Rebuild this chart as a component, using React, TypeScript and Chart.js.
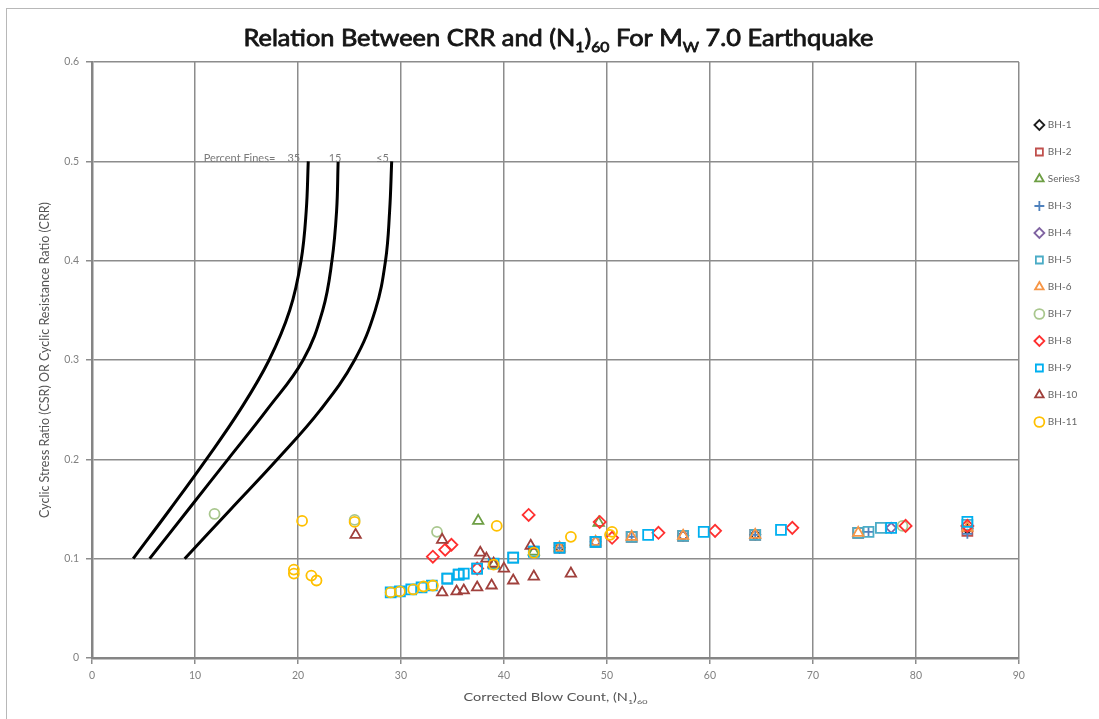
import { useEffect, useRef } from 'react';
import { Chart, registerables } from 'chart.js';

Chart.register(...registerables);

const FONT = 'Lato, "Liberation Sans", sans-serif';

// Percent-fines boundary curves (x = (N1)60, y = CRR)
const CURVE_Y = [0.1, 0.15, 0.2, 0.25, 0.3, 0.35, 0.4, 0.45, 0.5];
const FINES35_X = [4.0, 7.6, 11.1, 14.4, 17.2, 19.2, 20.3, 20.8, 21.0];
const FINES15_X = [5.6, 9.4, 13.2, 17.0, 20.5, 22.4, 23.3, 23.75, 23.9];
const FINES5_X = [9.0, 13.5, 18.0, 22.2, 25.5, 27.5, 28.5, 28.9, 29.1];
const CURVE_LABELS = ['35', '15', '≤5'];
const CURVE_LABEL_X = [19.6, 23.6, 28.2];
const FINES_TITLE = 'Percent Fines=';
const FINES_TITLE_X = 17.8;
const FINES_LABEL_Y = 0.5;

// Boreholes: [ (N1)60 , CSR ]
const BH1 = [[45.4, 0.111], [57.4, 0.123], [64.4, 0.124], [85, 0.130]];
const BH2 = [[45.4, 0.111], [48.9, 0.117], [52.4, 0.122], [57.4, 0.123], [64.4, 0.124], [74.4, 0.126], [85, 0.128]];
const SERIES3 = [[37.5, 0.138], [49.2, 0.136], [39.0, 0.094], [42.9, 0.107]];
const BH3 = [[45.4, 0.111], [52.4, 0.122], [64.4, 0.124], [75.4, 0.127], [85, 0.125]];
const BH4 = [[48.9, 0.117], [57.4, 0.123], [77.6, 0.131]];
const BH5 = [[34.5, 0.080], [35.6, 0.084], [37.4, 0.090], [40.9, 0.101], [42.9, 0.107], [45.4, 0.111], [48.9, 0.117], [52.4, 0.122], [57.4, 0.123], [64.4, 0.124], [74.4, 0.126], [75.4, 0.127], [76.6, 0.131], [85, 0.134]];
const BH6 = [[45.4, 0.111], [48.9, 0.117], [52.4, 0.122], [57.4, 0.123], [64.4, 0.124], [74.4, 0.126], [85, 0.131]];
const BH7 = [[11.9, 0.145], [25.5, 0.139], [33.5, 0.127], [78.7, 0.133]];
const BH8 = [[33.1, 0.102], [34.3, 0.109], [34.9, 0.114], [37.4, 0.090], [42.4, 0.144], [49.3, 0.137], [50.5, 0.121], [55.0, 0.126], [60.5, 0.128], [68.0, 0.131], [79.0, 0.133], [85, 0.133]];
const BH9 = [[29.0, 0.066], [29.9, 0.067], [31.0, 0.069], [32.0, 0.071], [33.0, 0.073], [34.5, 0.080], [35.6, 0.084], [36.1, 0.085], [37.4, 0.090], [39.0, 0.095], [40.9, 0.101], [42.9, 0.107], [45.4, 0.111], [48.9, 0.117], [54.0, 0.124], [59.4, 0.127], [66.9, 0.129], [77.6, 0.131], [85, 0.137]];
const BH10 = [[25.6, 0.124], [34.0, 0.119], [37.7, 0.106], [38.3, 0.100], [39.0, 0.095], [40.0, 0.090], [42.6, 0.113], [34.0, 0.066], [35.4, 0.067], [36.1, 0.068], [37.4, 0.071], [38.8, 0.073], [40.9, 0.078], [42.9, 0.082], [46.5, 0.085]];
const BH11 = [[19.6, 0.089], [19.6, 0.085], [21.3, 0.083], [21.8, 0.078], [20.4, 0.138], [25.5, 0.137], [29.0, 0.066], [29.9, 0.067], [31.2, 0.069], [32.2, 0.072], [33.1, 0.073], [39.0, 0.094], [39.3, 0.133], [42.9, 0.106], [46.5, 0.122], [50.5, 0.127], [50.3, 0.124]];

const SERIES = [
  { label: 'BH-1', data: BH1, color: '#1e1e1e', style: 'rectRot', r: 5 },
  { label: 'BH-2', data: BH2, color: '#C0504D', style: 'rect', r: 7 },
  { label: 'Series3', data: SERIES3, color: '#6E9F45', style: 'triangle', r: 6 },
  { label: 'BH-3', data: BH3, color: '#4F81BD', style: 'cross', r: 5 },
  { label: 'BH-4', data: BH4, color: '#8064A2', style: 'rectRot', r: 5 },
  { label: 'BH-5', data: BH5, color: '#4BACC6', style: 'rect', r: 7 },
  { label: 'BH-6', data: BH6, color: '#F79646', style: 'triangle', r: 6 },
  { label: 'BH-7', data: BH7, color: '#A9C78E', style: 'circle', r: 5 },
  { label: 'BH-8', data: BH8, color: '#FF3030', style: 'rectRot', r: 6 },
  { label: 'BH-9', data: BH9, color: '#00B0F0', style: 'rect', r: 7 },
  { label: 'BH-10', data: BH10, color: '#A0403C', style: 'triangle', r: 6 },
  { label: 'BH-11', data: BH11, color: '#FFC000', style: 'circle', r: 5 },
];

type Part = { t: string; sub?: boolean };

function drawRich(ctx: CanvasRenderingContext2D, parts: Part[], cx: number, baseline: number, size: number, color: string, weight: string, targetWidth?: number, stroke = 0) {
  const subSize = size * 0.62;
  const fontFor = (p: Part) => `${weight} ${p.sub ? subSize : size}px ${FONT}`;
  const widths = parts.map((p) => { ctx.font = fontFor(p); return ctx.measureText(p.t).width; });
  const total = widths.reduce((a, b) => a + b, 0);
  const sx = targetWidth ? targetWidth / total : 1;
  ctx.save();
  ctx.translate(cx - (total * sx) / 2, baseline);
  ctx.scale(sx, 1);
  ctx.fillStyle = color;
  ctx.strokeStyle = color;
  ctx.lineWidth = stroke;
  ctx.lineJoin = 'round';
  ctx.textAlign = 'left';
  ctx.textBaseline = 'alphabetic';
  let x = 0;
  parts.forEach((p, i) => {
    ctx.font = fontFor(p);
    const dy = p.sub ? size * 0.24 : 0;
    ctx.fillText(p.t, x, dy);
    if (stroke > 0) ctx.strokeText(p.t, x, dy);
    x += widths[i];
  });
  ctx.restore();
}

const annotationPlugin = {
  id: 'annotations',
  afterDraw(chart: any) {
    const { ctx, chartArea, scales } = chart;
    const xs = scales.x;
    const ys = scales.y;
    ctx.save();
    // Title
    drawRich(ctx, [
      { t: 'Relation Between CRR and (N' }, { t: '1', sub: true }, { t: ')' }, { t: '60', sub: true },
      { t: ' For M' }, { t: 'W', sub: true }, { t: ' 7.0 Earthquake' },
    ], (chartArea.left + chartArea.right) / 2 + 3, 46, 23, '#151515', 'normal', 630, 0.8);
    // X axis title
    drawRich(ctx, [
      { t: 'Corrected Blow Count, (N' }, { t: '1', sub: true }, { t: ')' }, { t: '60', sub: true },
    ], (chartArea.left + chartArea.right) / 2, 701, 10.5, '#555', 'normal', 184);
    // Percent fines labels
    ctx.fillStyle = '#7a7a7a';
    ctx.font = `11px ${FONT}`;
    ctx.textBaseline = 'alphabetic';
    const yb = ys.getPixelForValue(FINES_LABEL_Y) + 1;
    ctx.textAlign = 'right';
    ctx.fillText(FINES_TITLE, xs.getPixelForValue(FINES_TITLE_X), yb);
    ctx.textAlign = 'center';
    CURVE_LABELS.forEach((l, i) => ctx.fillText(l, xs.getPixelForValue(CURVE_LABEL_X[i]), yb));
    ctx.restore();
  },
};

export default function App() {
  const ref = useRef<HTMLCanvasElement | null>(null);
  useEffect(() => {
    if (!ref.current) return;
    const scatterSets = SERIES.map((s, i) => ({
      type: 'scatter' as const,
      label: s.label,
      data: s.data.map(([x, y]) => ({ x, y })),
      borderColor: s.color,
      backgroundColor: 'rgba(0,0,0,0)',
      pointStyle: s.style,
      pointRadius: s.r,
      pointBorderWidth: 1.8,
      borderWidth: 1.8,
      showLine: false,
      order: -i,
    }));
    const curveSets = [FINES35_X, FINES15_X, FINES5_X].map((xsArr, i) => ({
      type: 'line' as const,
      label: `Fines ${CURVE_LABELS[i]}`,
      data: xsArr.map((x, j) => ({ x, y: CURVE_Y[j] })),
      borderColor: '#000',
      borderWidth: 3,
      pointRadius: 0,
      fill: false,
      tension: 0.4,
      order: -50,
    }));
    const chart = new Chart(ref.current, {
      type: 'scatter',
      data: { datasets: [...scatterSets, ...curveSets] as any },
      plugins: [annotationPlugin],
      options: {
        animation: false,
        responsive: false,
        devicePixelRatio: 1,
        layout: { padding: { top: 62, right: 9, bottom: 0, left: 0 } },
        plugins: {
          title: { display: false },
          tooltip: { enabled: false },
          legend: {
            position: 'right',
            align: 'start',
            title: { display: true, text: ' ', padding: { top: 29, bottom: 0 }, font: { size: 10 } },
            labels: {
              usePointStyle: true,
              boxWidth: 7,
              boxHeight: 7,
              padding: 17,
              color: '#666',
              font: { family: FONT, size: 10 },
              filter: (item: any) => item.datasetIndex < 12,
              sort: (a: any, b: any) => a.datasetIndex - b.datasetIndex,
            },
          },
        },
        scales: {
          x: {
            type: 'linear',
            min: 0,
            max: 90,
            ticks: { stepSize: 10, color: '#808080', font: { family: FONT, size: 10.5 }, padding: 5 },
            grid: { color: '#8c8c8c', lineWidth: 1.5, tickLength: 6, tickColor: '#8c8c8c' },
            border: { color: '#858585', width: 2.5 },
            afterFit: (s: any) => { s.height = 61; },
          },
          y: {
            type: 'linear',
            min: 0,
            max: 0.6,
            ticks: { stepSize: 0.1, color: '#808080', font: { family: FONT, size: 10.5 }, padding: 7 },
            grid: { color: '#8c8c8c', lineWidth: 1.5, tickLength: 6, tickColor: '#8c8c8c' },
            border: { color: '#858585', width: 2.5 },
            title: {
              display: true,
              text: 'Cyclic Stress Ratio (CSR) OR Cyclic Resistance Ratio (CRR)',
              color: '#555',
              font: { family: FONT, size: 12.5 },
              padding: { top: 37, bottom: 0 },
            },
            afterFit: (s: any) => { s.width = 92; },
          },
        },
      },
    });
    return () => chart.destroy();
  }, []);
  return (
    <div style={{ position: 'fixed', left: 0, top: 0, width: 1099, height: 719, overflow: 'hidden', background: '#fff' }}>
      <div style={{ position: 'absolute', left: 6, top: 8, width: 1300, height: 900, border: '1.5px solid #b8b8b8' }} />
      <canvas ref={ref} width={1099} height={719} style={{ position: 'absolute', left: 0, top: 0 }} />
    </div>
  );
}
